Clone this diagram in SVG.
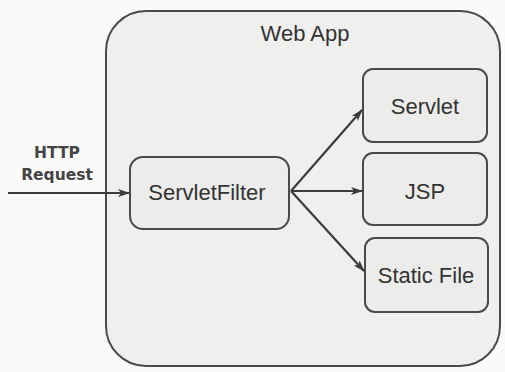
<svg xmlns="http://www.w3.org/2000/svg" width="505" height="372" viewBox="0 0 505 372">
  <style>
    .container { fill: #efefed; stroke: #4a4a4a; stroke-width: 2; }
    .box { fill: #ececea; stroke: #4a4a4a; stroke-width: 2; }
    .label { font-family: "Liberation Sans", Arial, sans-serif; font-size: 22px; fill: #333; text-anchor: middle; }
    .input { font-family: "DejaVu Sans", Verdana, sans-serif; font-weight: bold; font-size: 15.5px; fill: #444; text-anchor: middle; }
    .edge { fill: none; stroke: #3c3c3c; stroke-width: 2.2; }
  </style>
  <defs>
    <marker id="arrow" viewBox="0 0 12 10" refX="11" refY="5" markerWidth="12" markerHeight="10" markerUnits="userSpaceOnUse" orient="auto">
      <path d="M0,1 L12,5 L0,9 L3,5 Z" fill="#3c3c3c"/>
    </marker>
  </defs>

  <rect width="505" height="372" fill="#fafaf9"/>

  <!-- Web application container -->
  <g id="web-app">
    <rect class="container" x="106" y="11" width="394" height="355" rx="40" ry="40"/>
    <text class="label" x="305" y="41">Web App</text>
  </g>

  <!-- Incoming request label -->
  <g id="http-request">
    <text class="input" x="57" y="158">HTTP</text>
    <text class="input" x="57" y="180">Request</text>
  </g>

  <g id="servlet-filter">
    <rect class="box" x="130" y="157" width="159" height="72" rx="13" ry="13"/>
    <text class="label" x="207" y="200" font-size="21">ServletFilter</text>
  </g>

  <g id="servlet">
    <rect class="box" x="363" y="69" width="124" height="73" rx="10" ry="10"/>
    <text class="label" x="425" y="114">Servlet</text>
  </g>

  <g id="jsp">
    <rect class="box" x="363" y="153" width="124" height="72" rx="10" ry="10"/>
    <text class="label" x="425" y="199">JSP</text>
  </g>

  <g id="static-file">
    <rect class="box" x="365" y="238" width="123" height="74" rx="10" ry="10"/>
    <text class="label" x="426" y="283">Static File</text>
  </g>

  <!-- Request flow -->
  <g id="connectors">
    <line class="edge" x1="8" y1="193" x2="129" y2="193" marker-end="url(#arrow)"/>
    <line class="edge" x1="291" y1="191" x2="362" y2="110" marker-end="url(#arrow)"/>
    <line class="edge" x1="291" y1="191" x2="362" y2="191" marker-end="url(#arrow)"/>
    <line class="edge" x1="291" y1="191" x2="364" y2="271" marker-end="url(#arrow)"/>
  </g>
</svg>
